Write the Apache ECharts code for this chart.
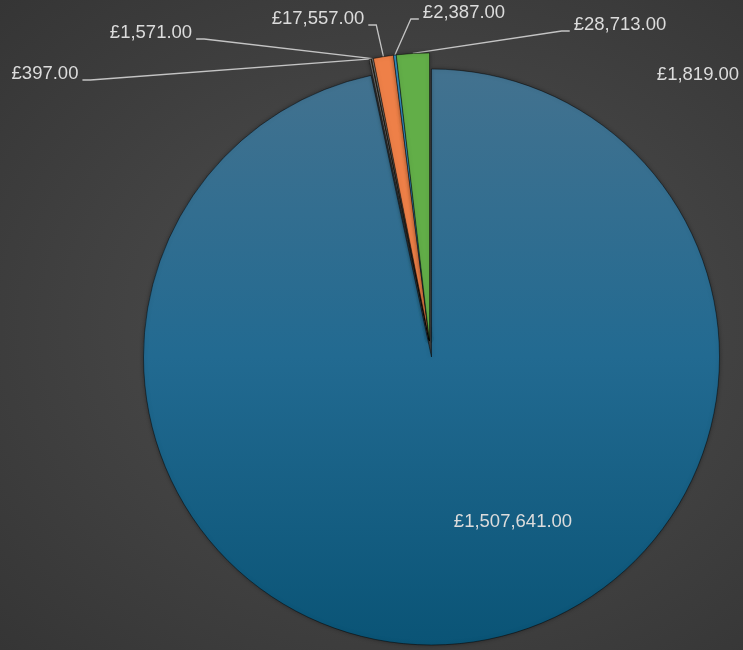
<!DOCTYPE html>
<html>
<head>
<meta charset="utf-8">
<script src="https://cdn.jsdelivr.net/npm/echarts@6/dist/echarts.min.js"></script>
<style>
  html, body { margin: 0; padding: 0; }
  body {
    width: 743px; height: 650px; overflow: hidden;
    background: radial-gradient(ellipse at 55% 50%, #4a4a4a 0%, #444444 45%, #353535 100%);
  }
  #main { width: 743px; height: 650px; }
</style>
</head>
<body>
<div id="main"></div>
<script>
// values, in drawing order (clockwise from 12 o'clock)
var amounts = [1507641, 1819, 397, 1571, 17557, 2387, 28713];
var sliceColors = ['big', '#7f7f7f', '#c9a227', '#8c8c8c', '#ee8048', '#3a9fd8', '#62ae48'];
// which slices are pulled out of the pie
var pulledOut = [false, true, true, true, true, true, true];

// where each label sits: [x, y]
var labelSpots = [
  [513, 522],
  [698, 75],
  [45, 74],
  [151, 33],
  [318, 19],
  [464, 13],
  [620, 25]
];
// which end of the label the leader line leaves from: -1 left, 1 right, 0 no line
var lineSide = [0, 0, 1, 1, 1, -1, -1];

function money(v) {
  return '£' + v.toLocaleString('en-GB', { minimumFractionDigits: 2, maximumFractionDigits: 2 });
}

var bigFill = new echarts.graphic.LinearGradient(0, 0, 0, 1, [
  { offset: 0, color: '#43728f' },
  { offset: 0.5, color: '#226a91' },
  { offset: 1, color: '#0a5476' }
]);

var hidden = {
  itemStyle: { color: 'transparent', borderWidth: 0, shadowBlur: 0 },
  label: { show: false },
  labelLine: { show: false }
};

// one pie for the slices that stay put, one for the pulled-out ones
function buildData(wantPulled) {
  return amounts.map(function (v, i) {
    if (pulledOut[i] !== wantPulled) {
      return { value: v, itemStyle: hidden.itemStyle, label: hidden.label, labelLine: hidden.labelLine };
    }
    return {
      value: v,
      itemStyle: { color: sliceColors[i] === 'big' ? bigFill : sliceColors[i] },
      labelLine: { show: lineSide[i] !== 0 }
    };
  });
}

function placeLabel(params) {
  var i = params.dataIndex;
  var s = labelSpots[i];
  var w = params.labelRect.width;
  var out = { x: s[0], y: s[1], align: 'center', verticalAlign: 'middle' };
  if (lineSide[i] !== 0 && params.labelLinePoints) {
    var pts = params.labelLinePoints;
    var endX = s[0] + lineSide[i] * (w / 2 + 4);
    var endY = s[1] + 6;
    pts[2] = [endX, endY];
    pts[1] = [endX + lineSide[i] * 8, endY];
    out.labelLinePoints = pts;
  }
  return out;
}

var common = {
  type: 'pie',
  radius: 288,
  startAngle: 90,
  clockwise: true,
  silent: true,
  avoidLabelOverlap: false,
  emphasis: { disabled: true },
  itemStyle: {
    borderColor: 'rgba(0,0,0,0.45)',
    borderWidth: 1,
    shadowColor: 'rgba(0,0,0,0.35)',
    shadowBlur: 4
  },
  label: {
    show: true,
    formatter: function (p) { return money(p.value); },
    color: '#dcdcdc',
    fontFamily: 'Liberation Sans, Arial, sans-serif',
    fontSize: 18.5
  },
  labelLine: {
    show: true,
    length: 10,
    length2: 10,
    lineStyle: { color: '#c4c4c4', width: 1.3 }
  },
  labelLayout: placeLabel
};

var chart = echarts.init(document.getElementById('main'));
chart.setOption({
  backgroundColor: 'transparent',
  animation: false,
  series: [
    Object.assign({}, common, { center: [431.5, 357], data: buildData(false) }),
    Object.assign({}, common, { center: [429.5, 341], data: buildData(true) })
  ]
});
</script>
</body>
</html>
